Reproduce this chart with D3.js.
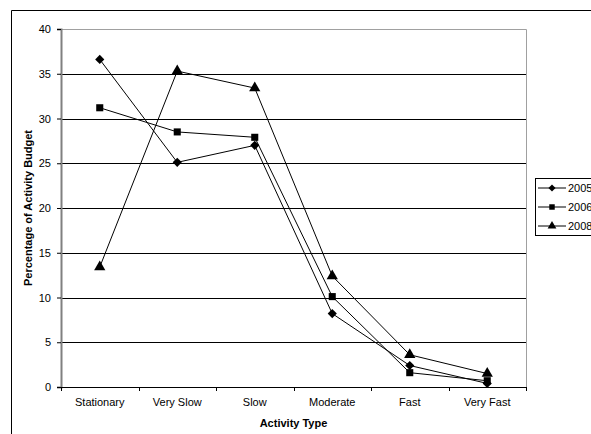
<!doctype html>
<html>
<head>
<style>
  body { margin: 0; background: #fff; }
  text { font-family: "Liberation Sans", Arial, sans-serif; }
</style>
<script src="https://d3js.org/d3.v7.min.js"></script>
</head>
<body>
<svg width="591" height="434"></svg>
<script>
var categories = ["Stationary", "Very Slow", "Slow", "Moderate", "Fast", "Very Fast"];
var years = ["2005", "2006", "2008"];
var v2005 = [36.6, 25.1, 27.0, 8.2, 2.4, 0.4];
var v2006 = [31.2, 28.5, 27.9, 10.1, 1.6, 0.7];
var v2008 = [13.4, 35.3, 33.4, 12.4, 3.6, 1.5];
var yTicks = [0, 5, 10, 15, 20, 25, 30, 35, 40];

// diamond = square turned 45 degrees
var series = [
  { name: years[0], values: v2005, shape: d3.symbolSquare, size: 42, rot: 45 },
  { name: years[1], values: v2006, shape: d3.symbolSquare, size: 50, rot: 0 },
  { name: years[2], values: v2008, shape: d3.symbolTriangle, size: 55, rot: 0 }
];

var svg = d3.select("svg");

// outer chart frame
svg.append("path")
   .attr("d", "M11.5,434 V10.5 H591")
   .attr("fill", "none")
   .attr("stroke", "#000");

var pLeft = 61, pRight = 526, pTop = 29, pBottom = 387;

var xScale = d3.scaleBand().domain(categories).range([pLeft, pRight]);
var yScale = d3.scaleLinear().domain([0, 40]).range([pBottom, pTop]);

// gridlines
svg.append("g").selectAll("line")
   .data(yTicks.filter(function(d) { return d > 0 && d < 40; }))
   .enter().append("line")
   .attr("x1", pLeft).attr("x2", pRight)
   .attr("y1", function(d) { return Math.round(yScale(d)) + 0.5; })
   .attr("y2", function(d) { return Math.round(yScale(d)) + 0.5; })
   .attr("stroke", "#000");

// plot area border (top + right) in gray
svg.append("path")
   .attr("d", "M" + pLeft + "," + (pTop + 0.5) + " H" + (pRight + 0.5) + " V" + pBottom)
   .attr("fill", "none")
   .attr("stroke", "#a0a0a0");

// y axis
var yAxis = svg.append("g")
   .attr("transform", "translate(" + pLeft + ",0)")
   .call(d3.axisLeft(yScale).tickValues(yTicks).tickSize(4).tickPadding(6));
yAxis.select(".domain").attr("stroke", "#808080").attr("stroke-width", 2);
yAxis.selectAll("text").attr("font-size", "11px").attr("font-family", "Liberation Sans, Arial").attr("fill", "#000");

// x axis
var xAxis = svg.append("g")
   .attr("transform", "translate(0," + pBottom + ")")
   .call(d3.axisBottom(xScale).tickSize(0).tickPadding(11));
xAxis.select(".domain").attr("stroke", "#000");
xAxis.selectAll("text").attr("font-size", "11px").attr("font-family", "Liberation Sans, Arial").attr("fill", "#000");
// category boundary ticks
svg.append("g").selectAll("line")
   .data(d3.range(categories.length + 1))
   .enter().append("line")
   .attr("x1", function(i) { return Math.round(pLeft + i * xScale.step()) + 0.5; })
   .attr("x2", function(i) { return Math.round(pLeft + i * xScale.step()) + 0.5; })
   .attr("y1", pBottom).attr("y2", pBottom + 4)
   .attr("stroke", "#000");

function cx(d, i) { return xScale(categories[i]) + xScale.bandwidth() / 2; }

var line = d3.line()
   .x(function(d, i) { return cx(d, i); })
   .y(function(d) { return yScale(d); });

series.forEach(function(s) {
  svg.append("path")
     .datum(s.values)
     .attr("d", line)
     .attr("fill", "none")
     .attr("stroke", "#000")
     .attr("stroke-width", 1);
  svg.append("g").selectAll("path")
     .data(s.values).enter()
     .append("path")
     .attr("transform", function(d, i) { return "translate(" + cx(d, i) + "," + yScale(d) + ") rotate(" + s.rot + ")"; })
     .attr("d", d3.symbol().type(s.shape).size(s.size))
     .attr("fill", "#000");
});

// axis titles
svg.append("text")
   .attr("transform", "translate(32," + ((pTop + pBottom) / 2) + ") rotate(-90)")
   .attr("text-anchor", "middle")
   .attr("font-size", "11px")
   .attr("font-weight", "bold")
   .text("Percentage of Activity Budget");

svg.append("text")
   .attr("x", (pLeft + pRight) / 2)
   .attr("y", 427)
   .attr("text-anchor", "middle")
   .attr("font-size", "11px")
   .attr("font-weight", "bold")
   .text("Activity Type");

// legend
var lg = svg.append("g").attr("transform", "translate(535,178)");
lg.append("rect")
  .attr("x", 0.5).attr("y", 0.5)
  .attr("width", 70).attr("height", 57)
  .attr("fill", "#fff").attr("stroke", "#000");
series.forEach(function(s, i) {
  var yy = 10 + i * 19;
  lg.append("line")
    .attr("x1", 3).attr("x2", 31)
    .attr("y1", yy).attr("y2", yy)
    .attr("stroke", "#000");
  lg.append("path")
    .attr("transform", "translate(17," + yy + ") rotate(" + s.rot + ")")
    .attr("d", d3.symbol().type(s.shape).size(s.size * 0.6))
    .attr("fill", "#000");
  lg.append("text")
    .attr("x", 33).attr("y", yy + 4)
    .attr("font-size", "11px")
    .text(s.name);
});
</script>
</body>
</html>
